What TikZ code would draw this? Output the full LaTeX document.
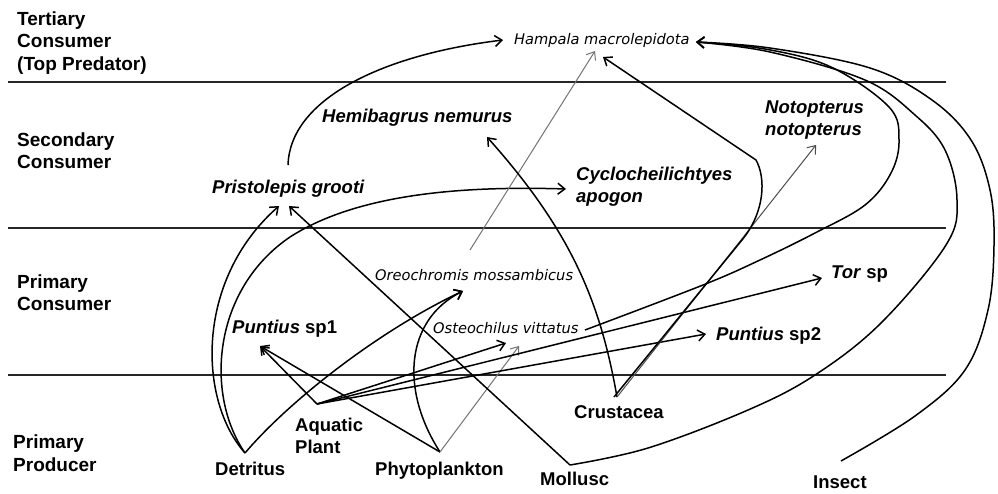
\documentclass[tikz,border=0pt]{standalone}
\usepackage{fontspec}
\setmainfont{Liberation Sans}
\newfontfamily\smallit{DejaVu Sans}
\usetikzlibrary{arrows.meta}
\begin{document}
\begin{tikzpicture}[x=1pt,y=-1pt,
  lvl/.style={anchor=base west,inner sep=0,font=\fontsize{19}{22}\selectfont\bfseries},
  sp/.style={anchor=base west,inner sep=0,font=\fontsize{18.5}{22}\selectfont\bfseries\itshape},
  src/.style={anchor=base west,inner sep=0,font=\fontsize{18.5}{22}\selectfont\bfseries},
  smit/.style={anchor=base west,inner sep=0,font=\fontsize{14.6}{17}\smallit\itshape},
  band/.style={line width=1.4pt,black!85},
  edge/.style={line width=1.5pt,-{Straight Barb[length=7pt,width=11pt]}},
  thinedge/.style={line width=1pt,black!55,-{Straight Barb[length=7pt,width=11pt]}},
]
\useasboundingbox (0,0) rectangle (998,493);
\fill[white] (0,0) rectangle (998,493);

% trophic level bands
\draw[band] (8,82) -- (946,82);
\draw[band] (8,228) -- (946,228);
\draw[band] (8,375) -- (946,375);

% level labels
\node[lvl] (t1) at (17,25) {Tertiary};
\node[lvl] (t2) at (17,47) {Consumer};
\node[lvl] (t3) at (17,70) {(Top Predator)};
\node[lvl] (s1) at (17,146) {Secondary};
\node[lvl] (s2) at (17,168) {Consumer};
\node[lvl] (p1) at (17,288) {Primary};
\node[lvl] (p2) at (17,310) {Consumer};
\node[lvl] (q1) at (13,448) {Primary};
\node[lvl] (q2) at (13,471) {Producer};

% species
\node[smit] (hampala) at (514,44) {Hampala macrolepidota};
\node[sp] (hemi) at (322,122) {Hemibagrus nemurus};
\node[sp] (notop1) at (765,113) {Notopterus};
\node[sp] (notop2) at (765,135) {notopterus};
\node[sp] (pris) at (212,193) {Pristolepis grooti};
\node[sp] (cyc1) at (576,180) {Cyclocheilichtyes};
\node[sp] (cyc2) at (576,202) {apogon};
\node[smit] (oreo) at (375,280) {Oreochromis mossambicus};
\node[src] (pun1) at (232,333) {\textit{Puntius} sp1};
\node[smit] (oste) at (433,333) {Osteochilus vittatus};
\node[src] (tor) at (831,278) {\textit{Tor} sp};
\node[src] (pun2) at (716,340) {\textit{Puntius} sp2};
\node[src] (crus) at (574,418) {Crustacea};
\node[src] (aq1) at (295,431) {Aquatic};
\node[src] (aq2) at (295,453) {Plant};
\node[src] (det) at (215,475) {Detritus};
\node[src] (phy) at (375,475) {Phytoplankton};
\node[src] (mol) at (540,485) {Mollusc};
\node[src] (ins) at (813,488) {Insect};

% attachment points
\coordinate (c-det) at (245,453);
\coordinate (c-aq) at (317,404);
\coordinate (c-phy) at (440,452);
\coordinate (c-crus) at (617,397);
\coordinate (c-crus2) at (614,397);
\coordinate (c-mol) at (570,465);
\coordinate (c-ins) at (841,461);
\coordinate (c-hamL) at (503,40);
\coordinate (c-hamO) at (595,51);
\coordinate (c-hamC) at (603,57);
\coordinate (c-hamR) at (696,42);
\coordinate (c-hemi) at (487,137);
\coordinate (c-prisA) at (279,206);
\coordinate (c-prisB) at (289,206);
\coordinate (c-prisS) at (288,165);
\coordinate (c-cyc) at (566,189);
\coordinate (c-notop) at (816,145);
\coordinate (c-oreoA) at (463,291);
\coordinate (c-oreoS) at (470,250);
\coordinate (c-pun1) at (260,346);
\coordinate (c-osteA) at (506,343);
\coordinate (c-osteB) at (519,346);
\coordinate (c-osteR) at (585,330);
\coordinate (c-pun2) at (706,334);
\coordinate (c-tor) at (822,278);

% feeding links
\draw[edge] (c-prisS) .. controls (290,100) and (380,55) .. (c-hamL);
\draw[edge] (c-det) .. controls (198,400) and (195,280) .. (c-prisA);
\draw[edge] (c-det) .. controls (205,395) and (212,290) .. (290,237) .. controls (360,192) and (470,186) .. (c-cyc);
\draw[edge] (c-det) .. controls (290,400) and (380,330) .. (c-oreoA);
\draw[edge] (c-aq) -- (c-pun1);
\draw[edge] (c-phy) -- (c-pun1);
\draw[edge] (c-phy) .. controls (400,390) and (405,320) .. (c-oreoA);
\draw[thinedge] (c-phy) -- (c-osteB);
\draw[edge] (c-aq) -- (c-osteA);
\draw[edge] (c-aq) -- (c-pun2);
\draw[edge] (c-aq) -- (c-tor);
\draw[thinedge] (c-oreoS) -- (c-hamO);
\draw[edge] (c-crus) .. controls (600,300) and (570,230) .. (c-hemi);
\draw[thinedge,black!70] (c-crus) -- (c-notop);
\draw[edge] (c-crus2) -- (742,240) .. controls (765,212) and (766,178) .. (756,160) -- (c-hamC);
\draw[edge] (c-mol) -- (c-prisB);
\draw[edge] plot[smooth,tension=0.6] coordinates {(c-mol) (648,448) (748,410) (815,375) (881,323) (946,245) (957,200) (945,150) (915,115) (865,80) (770,52) (c-hamR)};
\draw[edge] plot[smooth,tension=0.6] coordinates {(c-ins) (915,416) (965,370) (988,310) (994,245) (990,190) (971,140) (932,100) (870,68) (770,48) (c-hamR)};
\draw[edge] plot[smooth,tension=0.6] coordinates {(c-osteR) (703,285) (760,260) (815,233) (865,205) (891,173) (899,140) (889,107) (831,67) (765,49) (c-hamR)};
\end{tikzpicture}
\end{document}
